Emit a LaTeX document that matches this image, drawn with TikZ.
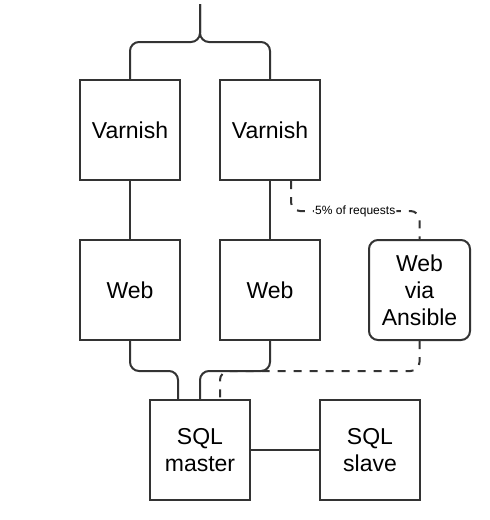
\documentclass[tikz,border=0pt]{standalone}
\usepackage{fontspec}
\setmainfont{Liberation Sans}
\definecolor{linec}{HTML}{333333}
\tikzset{
  box/.style={draw=linec, line width=2pt, minimum width=100pt, minimum height=100pt, inner sep=0pt, align=center, font=\fontsize{23}{27}\selectfont},
  rbox/.style={box, rounded corners=9pt, minimum width=101pt},
  conn/.style={draw=linec, line width=2pt, rounded corners=9pt},
  dconn/.style={conn, dash pattern=on 8pt off 8pt},
  lbl/.style={fill=white, inner sep=1pt, font=\fontsize{12}{14}\selectfont}
}
\begin{document}
\begin{tikzpicture}[x=1pt,y=-1pt]
\useasboundingbox (0,0) rectangle (490,520);
\node[box] (v1) at (130,130) {Varnish};
\node[box] (v2) at (270,130) {Varnish};
\node[box] (w1) at (130,290) {Web};
\node[box] (w2) at (270,290) {Web};
\node[rbox] (wa) at (419.5,290) {Web\\via\\Ansible};
\node[box] (m) at (200,450) {SQL\\master};
\node[box] (s) at (370,450) {SQL\\slave};
\coordinate (top) at (200,4);
\draw[conn] (top) -- (200,42) -| (v1.north);
\draw[conn] (top) -- (200,42) -| (v2.north);
\draw[conn] (v1.south) -- (w1.north);
\draw[conn] (v2.south) -- (w2.north);
\draw[dconn] ([xshift=-30pt]v2.south east) -- ++(0,30) -| (wa.north)
  node[lbl, pos=0.25] {5\% of requests};
\draw[conn] (w1.south) -- ++(0,30) -| ([xshift=-22pt]m.north);
\draw[conn] (w2.south) -- ++(0,30) -| (m.north);
\draw[dconn] (wa.south) -- ++(0,30) -| ([xshift=20pt]m.north);
\draw[conn] (m.east) -- (s.west);
\end{tikzpicture}
\end{document}
